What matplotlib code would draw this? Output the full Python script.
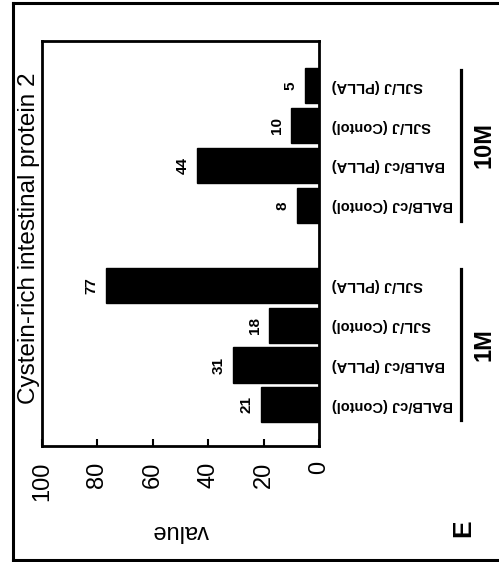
import matplotlib
matplotlib.use("Agg")
import matplotlib.pyplot as plt
import matplotlib.transforms as mtransforms
from matplotlib.lines import Line2D

plt.rcParams['font.family'] = ['Liberation Sans', 'DejaVu Sans']

# ---- data ----
groups = ["1M", "10M"]
categories = ["BALB/cJ (Contol)", "BALB/cJ (PLLA)", "SJL/J (Contol)", "SJL/J (PLLA)"]
values_1m = [21, 31, 18, 77]
values_10m = [8, 44, 10, 5]
value_ticks = [0, 20, 40, 60, 80, 100]
title = "Cystein-rich intestinal protein 2"
panel = "E"

W, H = 499, 562
fig = plt.figure(figsize=(W / 100, H / 100), dpi=100)

def fx(px):
    return px / W

def fy(py):
    return 1 - py / H

ax = fig.add_axes([fx(42), fy(446), fx(319) - fx(42), fy(41) - fy(446)])

all_vals = [values_1m, values_10m]
positions = []
for g, vals in enumerate(all_vals):
    pos = [g * (len(categories) + 1) + i for i in range(len(categories))]
    positions.append(pos)
    ax.barh(pos, vals, height=0.88, color='black', edgecolor='black')
    for p, v in zip(pos, vals):
        ax.text(v + 2.6, p, str(v), rotation=90, ha='right', va='center',
                fontsize=11, fontweight='bold')

ax.set_xlim(100, 0)
ax.set_ylim(-1.03, 9.12)
ax.set_xticks(value_ticks)
ax.set_xticklabels([str(t) for t in value_ticks], rotation=90, fontsize=17)
ax.tick_params(axis='x', direction='in', length=5, width=1.5, pad=11)
ax.set_yticks([])
for s in ax.spines.values():
    s.set_linewidth(2)
ax.set_xlabel("value", rotation=180, fontsize=17, labelpad=14)

# category labels on the right side
trans = mtransforms.blended_transform_factory(fig.transFigure, ax.transData)
for pos in positions:
    for p, c in zip(pos, categories):
        ax.text(fx(332), p, c, transform=trans, rotation=180, ha='left',
                va='center', fontsize=10.5, fontweight='bold', clip_on=False)

# group brackets
for pos, g in zip(positions, groups):
    y0 = pos[0] - 0.38
    y1 = pos[-1] + 0.4
    ytop = ax.transData.transform((0, y1))[1] / fig.bbox.height
    ybot = ax.transData.transform((0, y0))[1] / fig.bbox.height
    fig.add_artist(Line2D([fx(461), fx(461)], [ybot, ytop], transform=fig.transFigure,
                          color='black', lw=2.3))
    fig.text(fx(484), (ybot + ytop) / 2, g, rotation=90, ha='center', va='center',
             fontsize=17, fontweight='bold')

# title
fig.text(fx(29), fy(238), title, rotation=90, ha='center', va='center', fontsize=17.5)

# panel label
fig.text(fx(463), fy(528), panel, rotation=90, ha='center', va='center',
         fontsize=19, fontweight='bold')

# outer frame
for xs, ys in [([fx(13), fx(13)], [fy(3), fy(560)]),
               ([fx(13), 1], [fy(3), fy(3)]),
               ([fx(13), 1], [fy(560), fy(560)])]:
    fig.add_artist(Line2D(xs, ys, transform=fig.transFigure, color='black', lw=2.2))

fig.savefig("out.png", dpi=100)
